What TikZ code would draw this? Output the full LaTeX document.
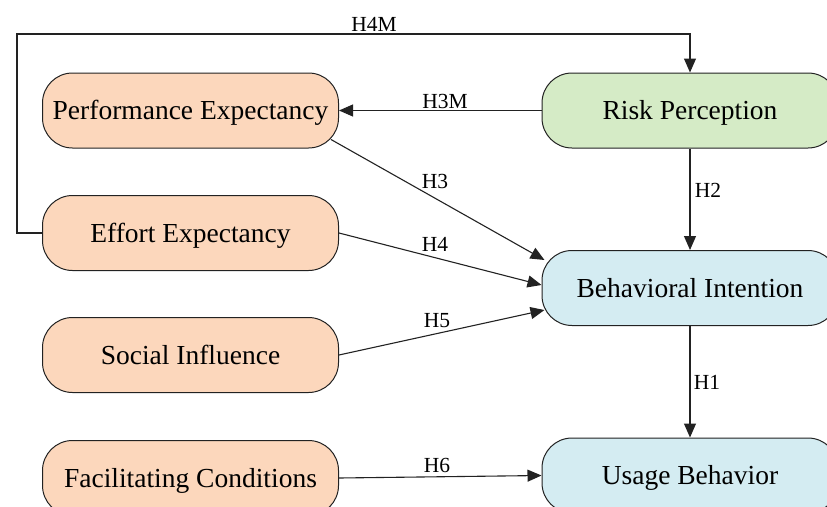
\documentclass[tikz,border=0pt]{standalone}
\usepackage{fontspec}
\setmainfont{Liberation Serif}
\usetikzlibrary{arrows.meta,calc}
\definecolor{peach}{HTML}{FCD7BC}
\definecolor{mint}{HTML}{D5EBC6}
\definecolor{aqua}{HTML}{D4ECF2}
\definecolor{edge}{HTML}{222222}
\tikzset{
  box/.style={draw=edge, line width=1pt, rectangle, rounded corners=30pt,
    minimum width=296pt, minimum height=75pt, inner sep=0pt,
    text height=18.2pt, text depth=0pt,
    font=\fontsize{27.5}{30}\selectfont},
  lbl/.style={inner sep=0pt, font=\fontsize{21.5}{24}\selectfont},
  conn/.style={draw=edge, line width=1.1pt, -{Triangle[length=14pt,width=12pt]}},
}
\begin{document}
\begin{tikzpicture}[x=1pt,y=-1pt]
\useasboundingbox (0,0) rectangle (827,506);
\node[box, fill=peach] (PE) at (190.5,110.5) {Performance Expectancy};
\node[box, fill=peach] (EE) at (190.5,233) {Effort Expectancy};
\node[box, fill=peach] (SI) at (190.5,355) {Social Influence};
\node[box, fill=peach] (FC) at (190.5,478) {Facilitating Conditions};
\node[box, fill=mint] (RP) at (690,110.5) {Risk Perception};
\node[box, fill=aqua] (BI) at (690,288) {Behavioral Intention};
\node[box, fill=aqua] (UB) at (690,475.5) {Usage Behavior};
\coordinate (corner) at (17,34);
% H4M
\draw[conn] (EE.west) -| (corner) -| (RP.north);
\node[lbl] (l4m) at (374,24) {H4M};
% H3M
\draw[conn] (RP.west) -- (PE.east);
\node[lbl] (l3m) at (445,101) {H3M};
% H3
\draw[conn] ($(PE.east)+(-8,29)$) -- ($(BI.west)+(3,-28)$);
\node[lbl] (l3) at (435,181) {H3};
% H4
\draw[conn] (EE.east) -- ($(BI.west)+(0,-3)$);
\node[lbl] (l4) at (435,244) {H4};
% H5
\draw[conn] (SI.east) -- ($(BI.west)+(3,22)$);
\node[lbl] (l5) at (437,321) {H5};
% H6
\draw[conn] (FC.east) -- (UB.west);
\node[lbl] (l6) at (437,465) {H6};
% H2
\draw[conn] (RP.south) -- (BI.north);
\node[lbl] (l2) at (708,190) {H2};
% H1
\draw[conn] (BI.south) -- (UB.north);
\node[lbl] (l1) at (707,382) {H1};
\end{tikzpicture}
\end{document}
